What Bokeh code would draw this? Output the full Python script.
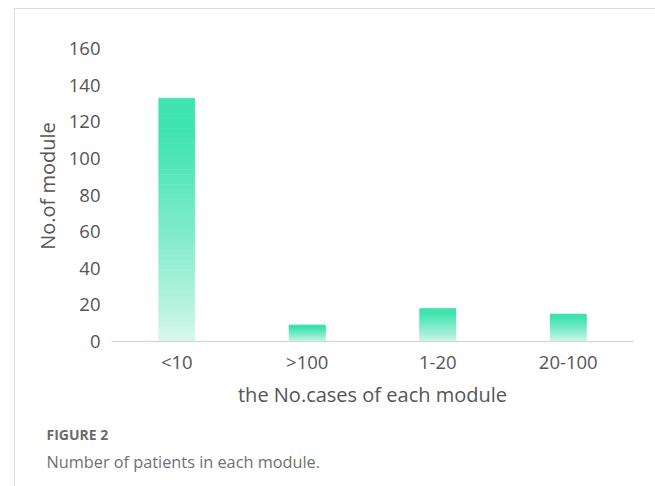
from bokeh.plotting import figure
from bokeh.models import Range1d, ColumnDataSource, FixedTicker, Title
from bokeh.embed import file_html
from bokeh.resources import INLINE

# Module size groups and the number of modules in each
categories = ["<10", ">100", "1-20", "20-100"]
counts = [133, 9, 18, 15]
y_ticks = [0, 20, 40, 60, 80, 100, 120, 140, 160]

FONT = "Open Sans"
TOP = (0x3E, 0xE3, 0xAF)
BOTTOM = (0xDD, 0xF8, 0xEE)
STEPS = 48


def mix(t):
    # t = 0 at the bar base, 1 at the bar top
    t = min(1.0, t ** 0.8 * 1.12)
    return "#%02x%02x%02x" % tuple(round(b + (a - b) * t) for a, b in zip(TOP, BOTTOM))


p = figure(
    width=641, height=478,
    x_range=categories, y_range=Range1d(0, 170),
    output_backend="svg", toolbar_location=None,
    min_border_left=96, min_border_right=23,
    min_border_top=21, min_border_bottom=146,
)
# thin page frame on the top and left edges
p.margin = (8, 0, 0, 14)
p.styles = {"border-top": "1px solid #dcdcdc", "border-left": "1px solid #dcdcdc"}
p.outline_line_color = None
p.background_fill_color = "white"
p.border_fill_color = "white"
p.grid.grid_line_color = None

# Each bar is filled with a vertical gradient built from thin slices of its own height
xs, bottoms, tops, colors = [], [], [], []
for cat, v in zip(categories, counts):
    for i in range(STEPS):
        xs.append(cat)
        bottoms.append(v * i / STEPS)
        tops.append(v * (i + 1) / STEPS)
        colors.append(mix((i + 0.5) / STEPS))
src = ColumnDataSource(dict(x=xs, bottom=bottoms, top=tops, color=colors))
p.vbar(x="x", bottom="bottom", top="top", width=0.276, fill_color="color",
       line_color="color", line_width=0.6, source=src)

# Axes
p.yaxis.ticker = FixedTicker(ticks=y_ticks)
for ax in (p.xaxis[0], p.yaxis[0]):
    ax.major_tick_line_color = None
    ax.minor_tick_line_color = None
    ax.major_tick_out = 0
    ax.major_tick_in = 0
    ax.minor_tick_out = 0
    ax.major_label_text_font = FONT
    ax.major_label_text_font_size = "18.5px"
    ax.major_label_text_color = "#555555"
    ax.axis_label_text_font = FONT
    ax.axis_label_text_font_size = "20px"
    ax.axis_label_text_font_style = "normal"
    ax.axis_label_text_color = "#555555"
p.yaxis.axis_line_color = None
p.xaxis.axis_line_color = "#d9d9d9"
p.xaxis.axis_line_width = 1.5
p.yaxis.major_label_standoff = 11
p.xaxis.major_label_standoff = 7
p.yaxis.axis_label = "No.of module"
p.xaxis.axis_label = "the No.cases of each module"
p.yaxis.axis_label_standoff = 5
p.xaxis.axis_label_standoff = 4

# Caption under the chart
cap1 = Title(text="FIGURE 2", align="left", offset=-65, text_font=FONT,
             text_font_size="14px", text_font_style="bold", text_color="#6b6b6b",
             standoff=24)
cap2 = Title(text="Number of patients in each module.", align="left", offset=-65,
             text_font=FONT, text_font_size="16.3px", text_font_style="normal",
             text_color="#707070", standoff=-14)
p.add_layout(cap1, "below")
p.add_layout(cap2, "below")

open("out.html", "w").write(file_html(p, INLINE))
